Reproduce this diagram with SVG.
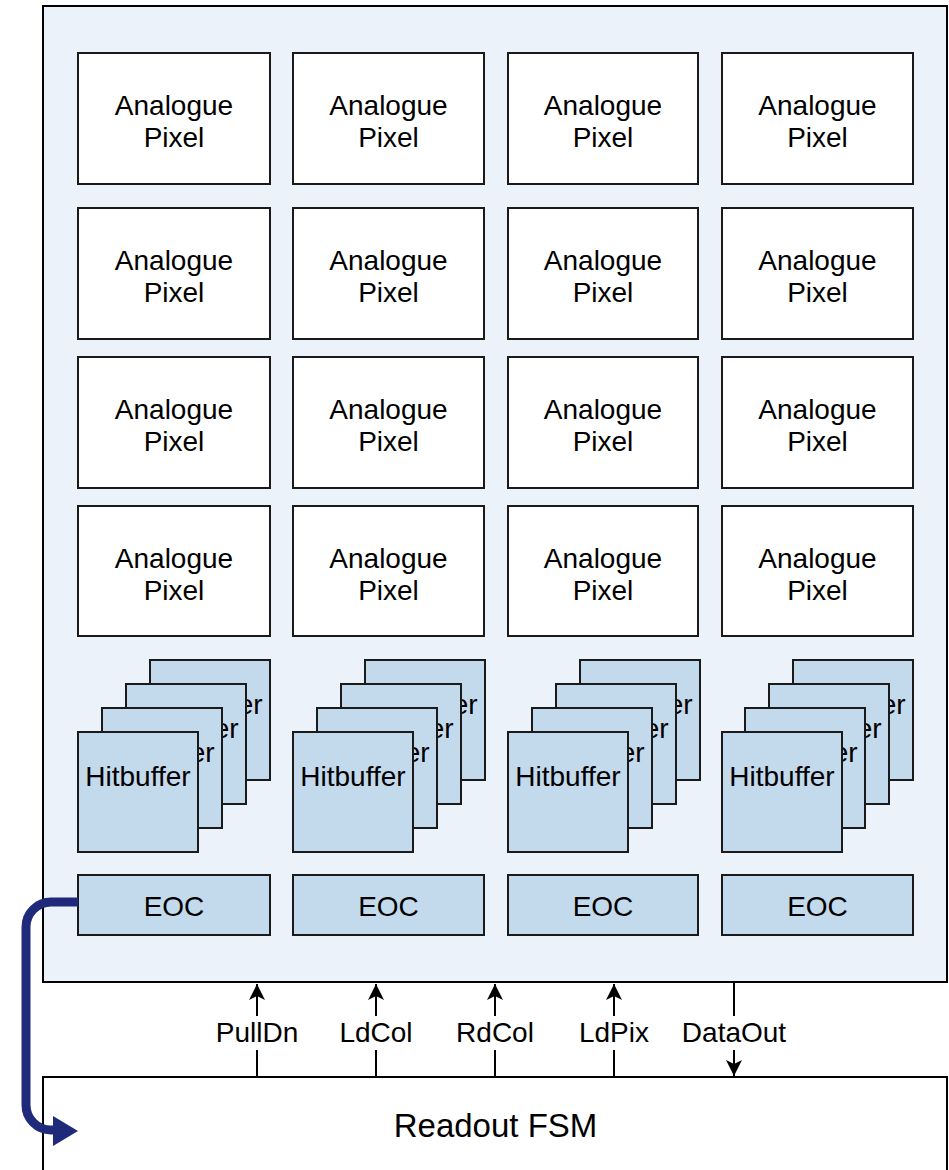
<svg xmlns="http://www.w3.org/2000/svg" width="949" height="1170" viewBox="0 0 949 1170">
  <style>
    text { font-family: "Liberation Sans", Arial, Helvetica, sans-serif; fill: #000; text-anchor: middle; }
    .lbl { font-size: 28px; }
    .big { font-size: 33px; }
    .frame { fill: #ebf2fa; stroke: #000; stroke-width: 2; }
    .pix { fill: #ffffff; stroke: #1a1a1a; stroke-width: 2; }
    .blk { fill: #c3d9ec; stroke: #1a1a1a; stroke-width: 2; }
    .fsm { fill: #ffffff; stroke: #000; stroke-width: 2; }
    .sig { stroke: #000; stroke-width: 2; fill: none; }
    .tag { fill: #ffffff; stroke: none; }
    .bus { stroke: #1f2a7b; stroke-width: 9; fill: none; }
  </style>
  <defs>
    <marker id="tip" markerUnits="userSpaceOnUse" markerWidth="16" markerHeight="20" viewBox="0 0 16 20" refX="16" refY="10" orient="auto">
      <path d="M0,2 L16,10 L0,18 L4,10 Z" fill="#000"/>
    </marker>
    <!-- strips of each stacked buffer that stay uncovered by the one in front -->
    <clipPath id="c1b4" clipPathUnits="userSpaceOnUse"><rect x="247" y="660" width="23" height="120"/></clipPath>
    <clipPath id="c1b3" clipPathUnits="userSpaceOnUse"><rect x="223" y="684" width="23" height="120"/></clipPath>
    <clipPath id="c1b2" clipPathUnits="userSpaceOnUse"><rect x="199" y="708" width="23" height="120"/></clipPath>
    <clipPath id="c2b4" clipPathUnits="userSpaceOnUse"><rect x="462" y="660" width="23" height="120"/></clipPath>
    <clipPath id="c2b3" clipPathUnits="userSpaceOnUse"><rect x="438" y="684" width="23" height="120"/></clipPath>
    <clipPath id="c2b2" clipPathUnits="userSpaceOnUse"><rect x="414" y="708" width="23" height="120"/></clipPath>
    <clipPath id="c3b4" clipPathUnits="userSpaceOnUse"><rect x="677" y="660" width="23" height="120"/></clipPath>
    <clipPath id="c3b3" clipPathUnits="userSpaceOnUse"><rect x="653" y="684" width="23" height="120"/></clipPath>
    <clipPath id="c3b2" clipPathUnits="userSpaceOnUse"><rect x="629" y="708" width="23" height="120"/></clipPath>
    <clipPath id="c4b4" clipPathUnits="userSpaceOnUse"><rect x="890" y="660" width="23" height="120"/></clipPath>
    <clipPath id="c4b3" clipPathUnits="userSpaceOnUse"><rect x="866" y="684" width="23" height="120"/></clipPath>
    <clipPath id="c4b2" clipPathUnits="userSpaceOnUse"><rect x="843" y="708" width="22" height="120"/></clipPath>
  </defs>

  <!-- pixel matrix frame -->
  <rect id="matrix" class="frame" x="43" y="6" width="904" height="976"/>

  <!-- readout state machine -->
  <g id="readout-fsm">
    <rect class="fsm" x="43" y="1077" width="904" height="120"/>
    <text class="big" x="495.5" y="1137">Readout FSM</text>
  </g>

  <!-- analogue pixels, 4 x 4 -->
  <g id="pixel-r1c1"><rect class="pix" x="78" y="53" width="192" height="131"/><text class="lbl" x="174" y="115">Analogue</text><text class="lbl" x="174" y="147">Pixel</text></g>
  <g id="pixel-r1c2"><rect class="pix" x="293" y="53" width="191" height="131"/><text class="lbl" x="388.5" y="115">Analogue</text><text class="lbl" x="388.5" y="147">Pixel</text></g>
  <g id="pixel-r1c3"><rect class="pix" x="508" y="53" width="190" height="131"/><text class="lbl" x="603" y="115">Analogue</text><text class="lbl" x="603" y="147">Pixel</text></g>
  <g id="pixel-r1c4"><rect class="pix" x="722" y="53" width="191" height="131"/><text class="lbl" x="817.5" y="115">Analogue</text><text class="lbl" x="817.5" y="147">Pixel</text></g>

  <g id="pixel-r2c1"><rect class="pix" x="78" y="208" width="192" height="131"/><text class="lbl" x="174" y="270">Analogue</text><text class="lbl" x="174" y="302">Pixel</text></g>
  <g id="pixel-r2c2"><rect class="pix" x="293" y="208" width="191" height="131"/><text class="lbl" x="388.5" y="270">Analogue</text><text class="lbl" x="388.5" y="302">Pixel</text></g>
  <g id="pixel-r2c3"><rect class="pix" x="508" y="208" width="190" height="131"/><text class="lbl" x="603" y="270">Analogue</text><text class="lbl" x="603" y="302">Pixel</text></g>
  <g id="pixel-r2c4"><rect class="pix" x="722" y="208" width="191" height="131"/><text class="lbl" x="817.5" y="270">Analogue</text><text class="lbl" x="817.5" y="302">Pixel</text></g>

  <g id="pixel-r3c1"><rect class="pix" x="78" y="357" width="192" height="131"/><text class="lbl" x="174" y="419">Analogue</text><text class="lbl" x="174" y="451">Pixel</text></g>
  <g id="pixel-r3c2"><rect class="pix" x="293" y="357" width="191" height="131"/><text class="lbl" x="388.5" y="419">Analogue</text><text class="lbl" x="388.5" y="451">Pixel</text></g>
  <g id="pixel-r3c3"><rect class="pix" x="508" y="357" width="190" height="131"/><text class="lbl" x="603" y="419">Analogue</text><text class="lbl" x="603" y="451">Pixel</text></g>
  <g id="pixel-r3c4"><rect class="pix" x="722" y="357" width="191" height="131"/><text class="lbl" x="817.5" y="419">Analogue</text><text class="lbl" x="817.5" y="451">Pixel</text></g>

  <g id="pixel-r4c1"><rect class="pix" x="78" y="506" width="192" height="130"/><text class="lbl" x="174" y="568">Analogue</text><text class="lbl" x="174" y="600">Pixel</text></g>
  <g id="pixel-r4c2"><rect class="pix" x="293" y="506" width="191" height="130"/><text class="lbl" x="388.5" y="568">Analogue</text><text class="lbl" x="388.5" y="600">Pixel</text></g>
  <g id="pixel-r4c3"><rect class="pix" x="508" y="506" width="190" height="130"/><text class="lbl" x="603" y="568">Analogue</text><text class="lbl" x="603" y="600">Pixel</text></g>
  <g id="pixel-r4c4"><rect class="pix" x="722" y="506" width="191" height="130"/><text class="lbl" x="817.5" y="568">Analogue</text><text class="lbl" x="817.5" y="600">Pixel</text></g>

  <!-- hit buffer stacks, back to front -->
  <g id="hitbuffers-c1">
    <rect class="blk" x="150" y="660" width="120" height="120"/><text class="lbl" x="210" y="714" clip-path="url(#c1b4)">Hitbuffer</text>
    <rect class="blk" x="126" y="684" width="120" height="120"/><text class="lbl" x="186" y="738" clip-path="url(#c1b3)">Hitbuffer</text>
    <rect class="blk" x="102" y="708" width="120" height="120"/><text class="lbl" x="162" y="762" clip-path="url(#c1b2)">Hitbuffer</text>
    <rect class="blk" x="78" y="732" width="120" height="120"/><text class="lbl" x="138" y="786">Hitbuffer</text>
  </g>
  <g id="hitbuffers-c2">
    <rect class="blk" x="365" y="660" width="120" height="120"/><text class="lbl" x="425" y="714" clip-path="url(#c2b4)">Hitbuffer</text>
    <rect class="blk" x="341" y="684" width="120" height="120"/><text class="lbl" x="401" y="738" clip-path="url(#c2b3)">Hitbuffer</text>
    <rect class="blk" x="317" y="708" width="120" height="120"/><text class="lbl" x="377" y="762" clip-path="url(#c2b2)">Hitbuffer</text>
    <rect class="blk" x="293" y="732" width="120" height="120"/><text class="lbl" x="353" y="786">Hitbuffer</text>
  </g>
  <g id="hitbuffers-c3">
    <rect class="blk" x="580" y="660" width="120" height="120"/><text class="lbl" x="640" y="714" clip-path="url(#c3b4)">Hitbuffer</text>
    <rect class="blk" x="556" y="684" width="120" height="120"/><text class="lbl" x="616" y="738" clip-path="url(#c3b3)">Hitbuffer</text>
    <rect class="blk" x="532" y="708" width="120" height="120"/><text class="lbl" x="592" y="762" clip-path="url(#c3b2)">Hitbuffer</text>
    <rect class="blk" x="508" y="732" width="120" height="120"/><text class="lbl" x="568" y="786">Hitbuffer</text>
  </g>
  <g id="hitbuffers-c4">
    <rect class="blk" x="793" y="660" width="120" height="120"/><text class="lbl" x="853" y="714" clip-path="url(#c4b4)">Hitbuffer</text>
    <rect class="blk" x="769" y="684" width="120" height="120"/><text class="lbl" x="829" y="738" clip-path="url(#c4b3)">Hitbuffer</text>
    <rect class="blk" x="745" y="708" width="120" height="120"/><text class="lbl" x="805" y="762" clip-path="url(#c4b2)">Hitbuffer</text>
    <rect class="blk" x="722" y="732" width="120" height="120"/><text class="lbl" x="782" y="786">Hitbuffer</text>
  </g>

  <!-- end-of-column logic -->
  <g id="eoc-c1"><rect class="blk" x="78" y="875" width="192" height="60"/><text class="lbl" x="174" y="916">EOC</text></g>
  <g id="eoc-c2"><rect class="blk" x="293" y="875" width="191" height="60"/><text class="lbl" x="388.5" y="916">EOC</text></g>
  <g id="eoc-c3"><rect class="blk" x="508" y="875" width="190" height="60"/><text class="lbl" x="603" y="916">EOC</text></g>
  <g id="eoc-c4"><rect class="blk" x="722" y="875" width="191" height="60"/><text class="lbl" x="817.5" y="916">EOC</text></g>

  <!-- connectors -->
  <g id="connectors">
    <!-- control and data lines between FSM and matrix -->
    <line class="sig" x1="257" y1="1077" x2="257" y2="984" marker-end="url(#tip)"/>
    <line class="sig" x1="376" y1="1077" x2="376" y2="984" marker-end="url(#tip)"/>
    <line class="sig" x1="495" y1="1077" x2="495" y2="984" marker-end="url(#tip)"/>
    <line class="sig" x1="614" y1="1077" x2="614" y2="984" marker-end="url(#tip)"/>
    <line class="sig" x1="734" y1="982" x2="734" y2="1076" marker-end="url(#tip)"/>

    <rect class="tag" x="212" y="1016" width="90" height="34"/>
    <rect class="tag" x="338" y="1016" width="76" height="34"/>
    <rect class="tag" x="456" y="1016" width="78" height="34"/>
    <rect class="tag" x="576" y="1016" width="76" height="34"/>
    <rect class="tag" x="680" y="1016" width="108" height="34"/>
    <text class="lbl" x="257" y="1042">PullDn</text>
    <text class="lbl" x="376" y="1042">LdCol</text>
    <text class="lbl" x="495" y="1042">RdCol</text>
    <text class="lbl" x="614" y="1042">LdPix</text>
    <text class="lbl" x="734" y="1042">DataOut</text>

    <!-- EOC data bus into the readout FSM -->
    <path class="bus" d="M78,902 H51 A25,25 0 0 0 26,927 V1105 A25,25 0 0 0 51,1130 H58"/>
    <polygon points="53,1116 78,1131 53,1146" fill="#1f2a7b"/>
  </g>
</svg>
